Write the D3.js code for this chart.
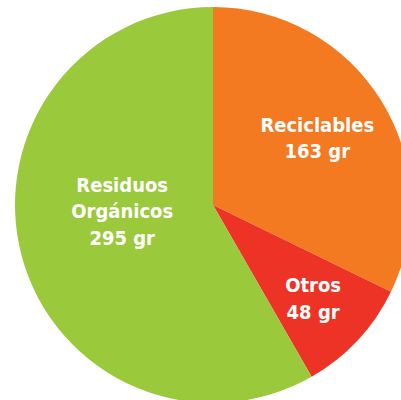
<!DOCTYPE html>
<head>
  <meta charset='utf-8'>
  <style>
      body { margin: 0; background: #fff; }
      .label {
        fill: #fff;
        font-family: 'DejaVu Sans Condensed', 'DejaVu Sans', sans-serif;
        font-weight: bold;
        font-size: 20px;
        text-anchor: middle;
      }
  </style>
</head>
<body>
<script src='https://d3js.org/d3.v7.min.js'></script>
<script>
    var
        W = 401,
        H = 400,
        CX = 213,
        CY = 205,
        R = 198;

    // data
    var names = [['Reciclables'], ['Otros'], ['Residuos', 'Orgánicos']],
        values = [163, 48, 295],
        colors = ['#f47a22', '#ec3326', '#9bc93c'];

    // label placement (distance from centre, vertical nudge)
    var labelR = [123, 137, 94],
        labelDy = [-2, 0, -18];

    var svg = d3.select('body')
        .append('svg')
            .attr('width', W)
            .attr('height', H),
        g = svg.append('g')
            .attr('transform', 'translate(' + CX + ',' + CY + ')');

    var pie = d3.pie().sort(null).value(function(d) { return d; }),
        arc = d3.arc().innerRadius(0).outerRadius(R),
        arcs = pie(values);

    g.selectAll('path')
        .data(arcs)
        .enter().append('path')
        .attr('d', arc)
        .attr('fill', function(d, i) { return colors[i]; });

    var LINE = 26.5;
    arcs.forEach(function(d, i) {
        var la = d3.arc().innerRadius(labelR[i]).outerRadius(labelR[i]),
            c = la.centroid(d),
            lines = names[i].concat([values[i] + ' gr']),
            top = c[1] + labelDy[i] - (lines.length - 1) * LINE / 2 + 7;
        var t = g.append('text')
            .attr('class', 'label');
        lines.forEach(function(s, k) {
            t.append('tspan')
                .attr('x', c[0])
                .attr('y', top + k * LINE)
                .text(s);
        });
    });
</script>
</body>
